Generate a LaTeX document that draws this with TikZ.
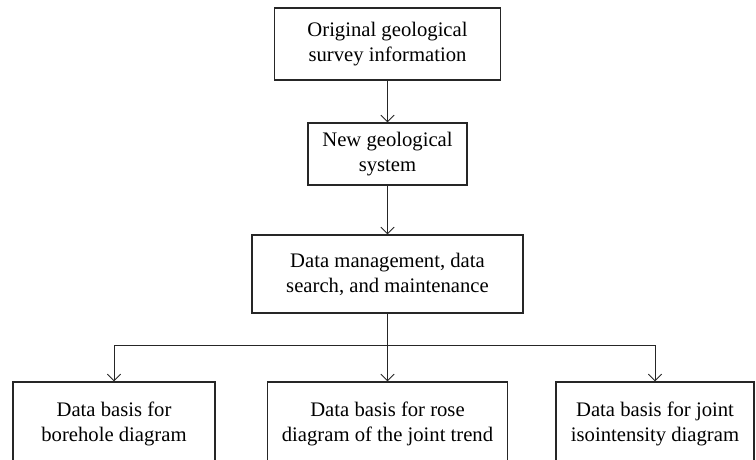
\documentclass[tikz,border=0pt]{standalone}
\usepackage{fontspec}
\setmainfont{Liberation Serif}
\usepackage{tikz}
\usetikzlibrary{arrows.meta,positioning,calc}
\tikzset{
  block/.style={draw=black!85,line width=0.8pt,align=center,inner sep=0pt,
    font=\fontsize{15.5}{18.75}\selectfont},
  arr/.style={-{Straight Barb[length=5pt,width=10pt,line width=0.7pt]},line width=0.75pt,draw=black!85},
  link/.style={line width=0.75pt,draw=black!85}
}
\begin{document}
\begin{tikzpicture}[x=0.75pt,y=-0.75pt]
  \useasboundingbox (0,0) rectangle (756,460);
  \clip (0,0) rectangle (756,460);
  % top column
  \node[block,minimum width=226*0.75pt,minimum height=72*0.75pt] (orig) at (387.5,44)
    {Original geological\\survey information};
  \node[block,minimum width=159*0.75pt,minimum height=62*0.75pt] (newsys) at (387.5,154)
    {New geological\\system};
  \node[block,minimum width=271*0.75pt,minimum height=78*0.75pt] (manage) at (387.5,274)
    {Data management, data\\search, and maintenance};
  % bottom row
  \node[block,minimum width=202*0.75pt,minimum height=84*0.75pt] (bore) at (114,424)
    {Data basis for\\borehole diagram};
  \node[block,minimum width=240*0.75pt,minimum height=84*0.75pt] (rose) at (387.5,424)
    {Data basis for rose\\diagram of the joint trend};
  \node[block,minimum width=198*0.75pt,minimum height=84*0.75pt] (iso) at (655,424)
    {Data basis for joint\\isointensity diagram};
  \coordinate (split) at (387.5,345);
  \draw[arr] (orig) -- (newsys);
  \draw[arr] (newsys) -- (manage);
  \draw[link] (manage) -- (split);
  \draw[arr] (split) -| (bore.north);
  \draw[arr] (split) -- (rose.north);
  \draw[arr] (split) -| (iso.north);
\end{tikzpicture}
\end{document}
